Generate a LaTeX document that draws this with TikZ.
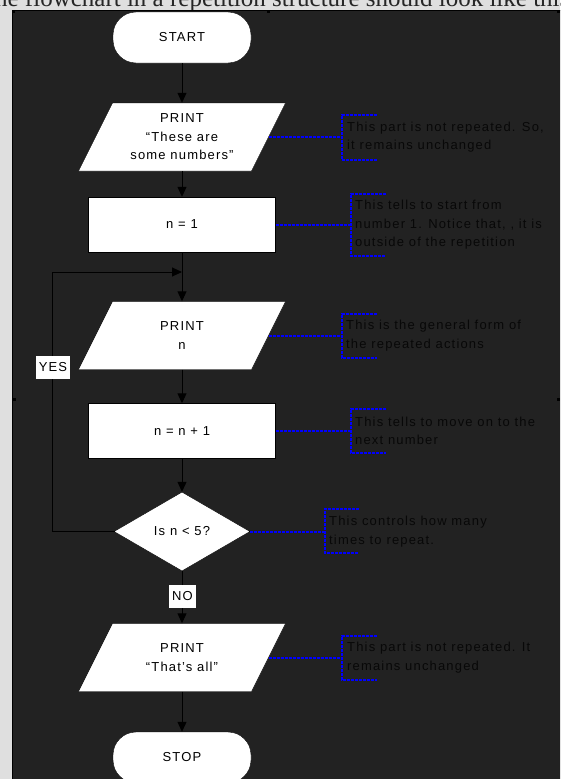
\documentclass[tikz,border=0pt]{standalone}
\usepackage{fontspec}
\setmainfont{Liberation Sans}[LetterSpace=9]
\newfontfamily\topserif{Liberation Serif}
\usetikzlibrary{shapes.geometric,arrows.meta}
\definecolor{panel}{HTML}{222222}
\definecolor{pagegray}{HTML}{DFDFDF}
\definecolor{annoblue}{HTML}{0000FF}
\definecolor{annoink}{HTML}{080808}
\newcommand\ioshape[2]{\path[iofill] ({#1-69.5},{#2-34}) -- ({#1+103.5},{#2-34}) -- ({#1+69.5},{#2+34}) -- ({#1-103.5},{#2+34}) -- cycle;}
\tikzset{
 every node/.style={font=\fontsize{13}{18.5}\selectfont},
 term/.style={rectangle, rounded corners=23pt, fill=white, draw=black, minimum width=138pt, minimum height=51pt, inner sep=0pt},
 procbox/.style={rectangle, fill=white, draw=black, minimum width=187pt, minimum height=55pt, inner sep=0pt},
 iotext/.style={rectangle, minimum width=173pt, minimum height=68pt, inner sep=0pt, align=center},
 iofill/.style={fill=white, draw=black, line width=0.4pt},
 decision/.style={diamond, fill=white, draw=black, minimum width=136pt, minimum height=79pt, inner sep=0pt},
 flow/.style={draw=black, line width=1pt, -{Triangle[length=10pt,width=9pt]}},
 tag/.style={fill=white, inner xsep=3pt, inner ysep=0pt, minimum height=23pt},
 anno/.style={draw=annoblue, line width=2pt, dash pattern=on 3pt off 1pt},
 annotext/.style={anchor=west, inner sep=0pt, align=left, text=annoink},
 handle/.style={fill=black},
}
\begin{document}
\begin{tikzpicture}[x=1pt,y=-1pt]
\clip (0,0) rectangle (560,779);
\useasboundingbox (0,0) rectangle (560,779);
% page and panel
\fill[pagegray] (0,0) rectangle (560,779);
\node[anchor=base west, inner sep=0pt, font=\topserif\fontsize{25}{25}\selectfont, text=black!85] (hdr) at (-12,6.5) {the flowchart in a repetition structure should look like this};
\path[fill=panel, draw=black, line width=1pt] (12,10) rectangle (563,781);
\foreach \hx/\hy in {13/11, 268/11, 558/11, 14/399, 558/399}
  \fill[handle] (\hx-1.5,\hy-1.5) rectangle (\hx+1.5,\hy+1.5);
% flowchart nodes
\node[term] (start) at (182,37.5) {START};
\ioshape{182}{137}
\node[iotext] (p1) at (182,137) {PRINT\\“These are\\some numbers”};
\node[procbox] (n1) at (182,224.5) {n = 1};
\ioshape{182}{335.5}
\node[iotext] (p2) at (182,335.5) {PRINT\\n};
\node[procbox] (inc) at (182,431) {n = n + 1};
\node[decision] (dec) at (182,531.5) {Is n < 5?};
\ioshape{182}{657.5}
\node[iotext] (p3) at (182,657.5) {PRINT\\“That’s all”};
\node[term] (stop) at (182,757.5) {STOP};
% connectors
\coordinate (join) at (182,272);
\draw[flow] (start.south) -- (p1.north);
\draw[flow] (p1.south) -- (n1.north);
\draw[flow] (n1.south) -- (p2.north);
\draw[flow] (dec.west) -- ++(-61,0) |- (join);
\draw[flow] (p2.south) -- (inc.north);
\draw[flow] (inc.south) -- (dec.north);
\draw[flow] (dec.south) -- (p3.north);
\draw[flow] (p3.south) -- (stop.north);
\node[tag] (yes) at (53,367) {YES};
\node[tag] (no) at (182.5,596.5) {NO};
% annotations
\coordinate (b1) at (342,137);
\draw[anno] (p1.east) -- (b1);
\draw[anno] (377,115) -- (342,115) -- (342,160) -- (377,160);
\node[annotext] (a1) at (347,137) {This part is not repeated. So,\\it remains unchanged};
\coordinate (b2) at (351,225);
\draw[anno] (n1.east |- b2) -- (b2);
\draw[anno] (386,194) -- (351,194) -- (351,256) -- (386,256);
\node[annotext] (a2) at (355,225) {This tells to start from\\number 1. Notice that, , it is\\outside of the repetition};
\coordinate (b3) at (342,336);
\draw[anno] (p2.east |- b3) -- (b3);
\draw[anno] (377,314) -- (342,314) -- (342,358) -- (377,358);
\node[annotext] (a3) at (346,335.5) {This is the general form of\\the repeated actions};
\coordinate (b4) at (351,431);
\draw[anno] (inc.east) -- (b4);
\draw[anno] (386,409) -- (351,409) -- (351,453) -- (386,453);
\node[annotext] (a4) at (355,431) {This tells to move on to the\\next number};
\coordinate (b5) at (325,532);
\draw[anno] (dec.east |- b5) -- (b5);
\draw[anno] (359,509) -- (325,509) -- (325,553) -- (359,553);
\node[annotext] (a5) at (329,531.5) {This controls how many\\times to repeat.};
\coordinate (b6) at (342,658);
\draw[anno] (p3.east |- b6) -- (b6);
\draw[anno] (377,636) -- (342,636) -- (342,680) -- (377,680);
\node[annotext] (a6) at (347,657.5) {This part is not repeated. It\\remains unchanged};
\end{tikzpicture}
\end{document}
